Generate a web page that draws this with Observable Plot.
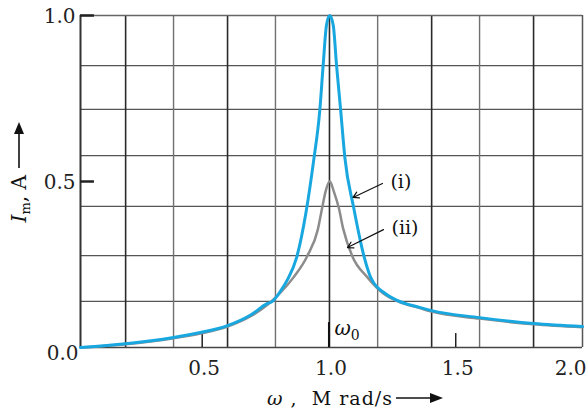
<!DOCTYPE html>
<html><head><meta charset="utf-8">
<script src="https://cdn.jsdelivr.net/npm/d3@7"></script>
<script src="https://cdn.jsdelivr.net/npm/@observablehq/plot@0.6"></script>
<style>body{margin:0;background:#fff} #chart svg{display:block}</style>
</head><body><div id="chart"></div>
<script>
// Curve (i): blue, peak 1.0 A at ω0
const blueW = [0.02, 0.198, 0.387, 0.493, 0.600, 0.691, 0.756, 0.777, 0.809, 0.837, 0.872, 0.910, 0.939, 0.964, 0.977, 0.990, 1.003, 1.017, 1.030, 1.046, 1.063, 1.097, 1.138, 1.164, 1.223, 1.269, 1.361, 1.405, 1.594, 1.807, 2.0];
const blueI = [0.000, 0.011, 0.030, 0.045, 0.066, 0.098, 0.132, 0.139, 0.170, 0.205, 0.270, 0.410, 0.560, 0.716, 0.849, 0.970, 1.000, 0.970, 0.849, 0.716, 0.570, 0.423, 0.275, 0.212, 0.162, 0.142, 0.120, 0.111, 0.090, 0.072, 0.063];
// Curve (ii): grey, peak 0.5 A at ω0
const grayW = [0.02, 0.198, 0.387, 0.493, 0.600, 0.691, 0.756, 0.770, 0.802, 0.861, 0.914, 0.956, 0.973, 0.986, 1.003, 1.020, 1.039, 1.056, 1.092, 1.151, 1.216, 1.269, 1.361, 1.405, 1.594, 1.807, 2.0];
const grayI = [0.000, 0.010, 0.028, 0.042, 0.063, 0.094, 0.128, 0.137, 0.160, 0.212, 0.275, 0.355, 0.420, 0.468, 0.501, 0.468, 0.420, 0.358, 0.275, 0.212, 0.162, 0.140, 0.118, 0.108, 0.087, 0.070, 0.061];

// grid and ticks
const gridXDark = [0.198, 0.600, 1.002, 1.405, 1.807];
const gridXLight = [0.387, 0.789, 1.192, 1.594];
const gridY = [0.139, 0.277, 0.425, 0.578, 0.717, 0.849];
const xTicks = [0.5, 1.0, 1.5, 2.0];
const xTickMarks = [0.5, 1.5];
const yTicks = [0.0, 0.5, 1.0];
const yTickMarks = [0.5, 1.0];
const xDomain = [0.02, 2.0];
const yDomain = [0, 1];

// annotations
const callouts = [
  {label: "(i)", x1: 1.211, y1: 0.494, x2: 1.095, y2: 0.452},
  {label: "(ii)", x1: 1.215, y1: 0.355, x2: 1.073, y2: 0.301}
];

const blue = blueW.map((w, k) => ({w, i: blueI[k]}));
const gray = grayW.map((w, k) => ({w, i: grayI[k]}));
const serif = "DejaVu Serif";

const chart = Plot.plot({
  width: 586, height: 410,
  marginLeft: 80, marginRight: 4, marginTop: 15, marginBottom: 63,
  x: {domain: xDomain, axis: null},
  y: {domain: yDomain, axis: null},
  style: {fontFamily: serif, background: "#fff", overflow: "visible"},
  marks: [
    Plot.ruleY(gridY, {stroke: "#555", strokeWidth: 1.3}),
    Plot.ruleX(gridXLight, {stroke: "#707070", strokeWidth: 1.4}),
    Plot.ruleX(gridXDark, {stroke: "#2a2a2a", strokeWidth: 1.6}),
    Plot.ruleY([yDomain[1]], {stroke: "#666", strokeWidth: 1.5}),
    Plot.ruleX([xDomain[1]], {stroke: "#555", strokeWidth: 1.5}),
    Plot.ruleY([yDomain[0]], {stroke: "#444", strokeWidth: 1.6}),
    Plot.ruleX([xDomain[0]], {stroke: "#333", strokeWidth: 2}),
    // tick marks
    Plot.ruleY(yTickMarks, {x1: xDomain[0], x2: xDomain[0] + 0.055, stroke: "#222", strokeWidth: 2.5}),
    Plot.ruleX(xTickMarks, {y1: 0, y2: 0.042, stroke: "#222", strokeWidth: 1.5}),
    Plot.ruleX([1.0], {y1: 0, y2: 0.075, stroke: "#111", strokeWidth: 2}),
    // tick labels
    Plot.text(yTicks.filter(d => d > 0), {x: xDomain[0], y: d => d, text: d => d.toFixed(1), textAnchor: "end", dx: -5, dy: 1, fontSize: 20, fill: "#222"}),
    Plot.text(yTicks.filter(d => d === 0), {x: xDomain[0], y: d => d, text: d => d.toFixed(1), textAnchor: "end", dx: -2, dy: 6, fontSize: 20, fill: "#222"}),
    Plot.text(xTicks.filter(d => d < 2), {x: d => d, y: 0, text: d => d.toFixed(1), dy: 21, dx: 2, fontSize: 20, fill: "#222"}),
    Plot.text(xTicks.filter(d => d >= 2), {x: d => d, y: 0, text: d => d.toFixed(1), textAnchor: "end", dy: 21, dx: 4, fontSize: 20, fill: "#222"}),
    // curves
    Plot.line(gray, {x: "w", y: "i", stroke: "#8c8c8c", strokeWidth: 2.5, curve: "monotone-x"}),
    Plot.line(blue, {x: "w", y: "i", stroke: "#19a7e0", strokeWidth: 3, curve: "monotone-x"}),
    // callouts
    Plot.arrow(callouts, {x1: "x1", y1: "y1", x2: "x2", y2: "y2", stroke: "#111", strokeWidth: 1.2, headLength: 8}),
    Plot.text(callouts, {x: "x1", y: "y1", text: "label", textAnchor: "start", dx: 8, dy: -2, fontSize: 19, fill: "#111"})
  ]
});

document.getElementById("chart").appendChild(chart);

// extra labels with sub/italic parts
const xs = chart.scale("x"), ys = chart.scale("y");
const sx = xs.apply ? (v => xs.apply(v)) : d3.scaleLinear(xDomain, [80, 582]);
const sy = ys.apply ? (v => ys.apply(v)) : d3.scaleLinear(yDomain, [347, 15]);
const svg = d3.select(chart);

// ω0 label
const w0 = svg.append("text").attr("x", sx(1.0) + 6).attr("y", sy(0) - 12).attr("text-anchor", "start")
  .attr("font-family", serif).attr("font-size", 20).attr("fill", "#111");
w0.append("tspan").attr("font-style", "italic").text("ω");
w0.append("tspan").attr("font-size", 14).attr("dy", 5).text("0");

// y label
const gy = svg.append("g").attr("transform", "translate(26,178) rotate(-90)");
const yl = gy.append("text").attr("x", 3).attr("y", 0).attr("text-anchor", "end")
  .attr("font-family", serif).attr("font-size", 20).attr("fill", "#111");
yl.append("tspan").attr("font-style", "italic").text("I");
yl.append("tspan").attr("font-size", 13).attr("dy", 4).text("m");
yl.append("tspan").attr("dy", -4).text(", A");
gy.append("line").attr("x1", 10).attr("x2", 48).attr("y1", -7).attr("y2", -7).attr("stroke", "#111").attr("stroke-width", 1.6);
gy.append("path").attr("d", "M56,-7 L44,-12 L44,-2 Z").attr("fill", "#111");

// x label
const xl = svg.append("text").attr("x", 267).attr("y", 405).attr("text-anchor", "start")
  .attr("textLength", 125).attr("lengthAdjust", "spacing")
  .attr("font-family", serif).attr("font-size", 19).attr("fill", "#111");
xl.append("tspan").attr("font-style", "italic").text("ω");
xl.append("tspan").text(" ,  M rad/s");
svg.append("line").attr("x1", 396).attr("x2", 432).attr("y1", 398).attr("y2", 398).attr("stroke", "#111").attr("stroke-width", 1.6);
svg.append("path").attr("d", "M443,398 L430,393 L430,403 Z").attr("fill", "#111");
</script>
</body></html>
